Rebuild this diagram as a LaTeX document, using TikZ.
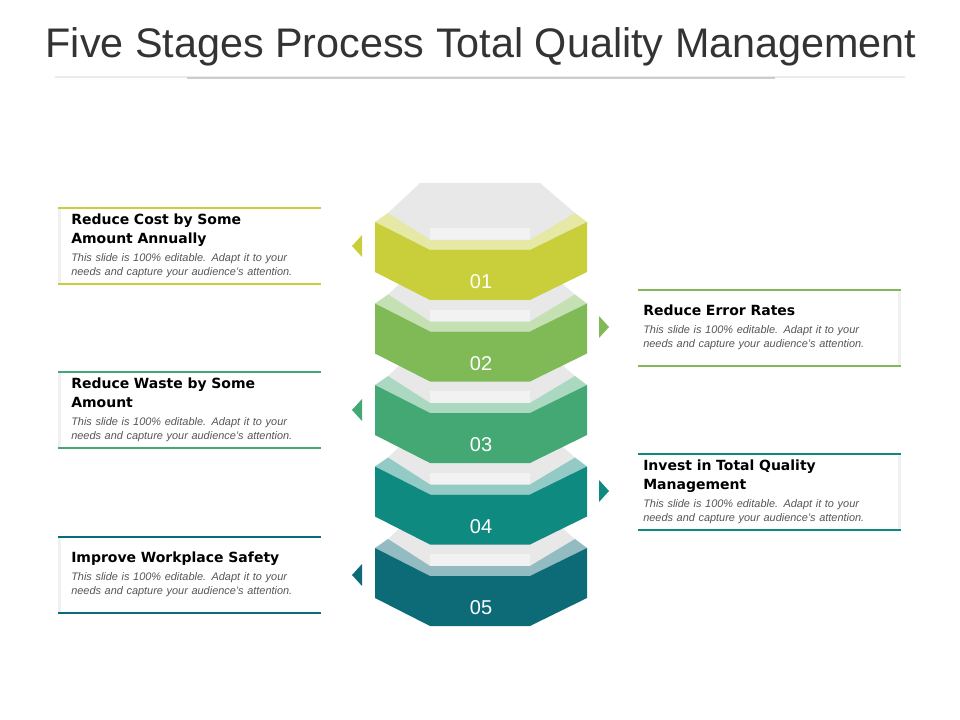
\documentclass[tikz,border=0pt]{standalone}
\usepackage{fontspec}
\setmainfont{Liberation Sans}
\newfontfamily\headfont{DejaVu Sans}
\usetikzlibrary{positioning}

\definecolor{cA}{HTML}{C8CF3A}
\definecolor{cB}{HTML}{7FBA56}
\definecolor{cC}{HTML}{43A873}
\definecolor{cD}{HTML}{0F8A80}
\definecolor{cE}{HTML}{0D6B78}
\definecolor{txtgray}{HTML}{555555}

\tikzset{
  head/.style={anchor=north west, align=left, text width=250*0.75pt, font=\headfont\bfseries\fontsize{10.5}{14}\selectfont, inner sep=0pt},
  body/.style={anchor=north west, align=left, text width=245*0.75pt, font=\itshape\fontsize{8.2}{10.5}\selectfont, text=txtgray, inner sep=0pt}
}

\begin{document}
\begin{tikzpicture}[x=0.75pt, y=-0.75pt]
\useasboundingbox (0,0) rectangle (960,720);
% title
\node (title) at (481,47) {\fontsize{31}{34}\selectfont\color{black!80}Five Stages Process Total Quality Management};
\draw[black!8, line width=1pt] (55,77) -- (905,77);
\draw[black!20, line width=2pt] (187,78) -- (775,78);

% stacked hexagons, bottom first
\foreach \k/\col in {5/cE,4/cD,3/cC,2/cB,1/cA} {
  \pgfmathsetmacro\d{81.5*(\k-1)}
  \begin{scope}[yshift=-\d*0.75pt]
    % grey prism
    \fill[black!9] (388,213) -- (420,183) -- (540,183) -- (575,213) -- (530,240) -- (430,240) -- cycle;
    \fill[black!5] (430,228) -- (530,228) -- (530,240) -- (430,240) -- cycle;
    \fill[black!12] (388,213) -- (430,240) -- (430,262) -- (388,240) -- cycle;
    \fill[black!12] (575,213) -- (530,240) -- (530,262) -- (575,240) -- cycle;
    \fill[black!4] (430,240) rectangle (530,262);
    % light rim
    \fill[\col!45!white] (375,222) -- (388,213) -- (430,240) -- (530,240) -- (575,213) -- (587,222) -- (530,250) -- (430,250) -- cycle;
    % band
    \fill[\col] (375,222) -- (430,250) -- (530,250) -- (587,222) -- (587,272) -- (530,300) -- (430,300) -- (375,272) -- cycle;
    \node[text=white, font=\fontsize{15}{15}\selectfont] (n\k) at (481,282) {0\k};
  \end{scope}
}

% left boxes
\foreach \y/\col in {208/cA,372/cC,537/cE} {
  \fill[black!6] (58,\y) rectangle (61,\y+76);
  \draw[\col, line width=0.8pt] (58,\y) -- (321,\y);
  \draw[\col, line width=0.8pt] (58,\y+76) -- (321,\y+76);
  \fill[\col] (352,\y+38) -- (362,\y+27) -- (362,\y+49) -- cycle;
}
% right boxes
\foreach \y/\col in {290/cB,454/cD} {
  \fill[black!6] (898,\y) rectangle (901,\y+76);
  \draw[\col, line width=0.8pt] (638,\y) -- (901,\y);
  \draw[\col, line width=0.8pt] (638,\y+76) -- (901,\y+76);
  \fill[\col] (609,\y+37) -- (599,\y+26) -- (599,\y+48) -- cycle;
}

\node[head] (h1) at (71,214) {Reduce Cost by Some\\Amount Annually};
\node[body] (t1) at (71,253) {This slide is 100\% editable. Adapt it to your needs and capture your audience’s attention.};
\node[head] (h3) at (71,378) {Reduce Waste by Some\\Amount};
\node[body] (t3) at (71,417) {This slide is 100\% editable. Adapt it to your needs and capture your audience’s attention.};
\node[head] (h5) at (71,552) {Improve Workplace Safety};
\node[body] (t5) at (71,572) {This slide is 100\% editable. Adapt it to your needs and capture your audience’s attention.};
\node[head] (h2) at (643,305) {Reduce Error Rates};
\node[body] (t2) at (643,325) {This slide is 100\% editable. Adapt it to your needs and capture your audience’s attention.};
\node[head] (h4) at (643,460) {Invest in Total Quality\\Management};
\node[body] (t4) at (643,499) {This slide is 100\% editable. Adapt it to your needs and capture your audience’s attention.};
\end{tikzpicture}
\end{document}
